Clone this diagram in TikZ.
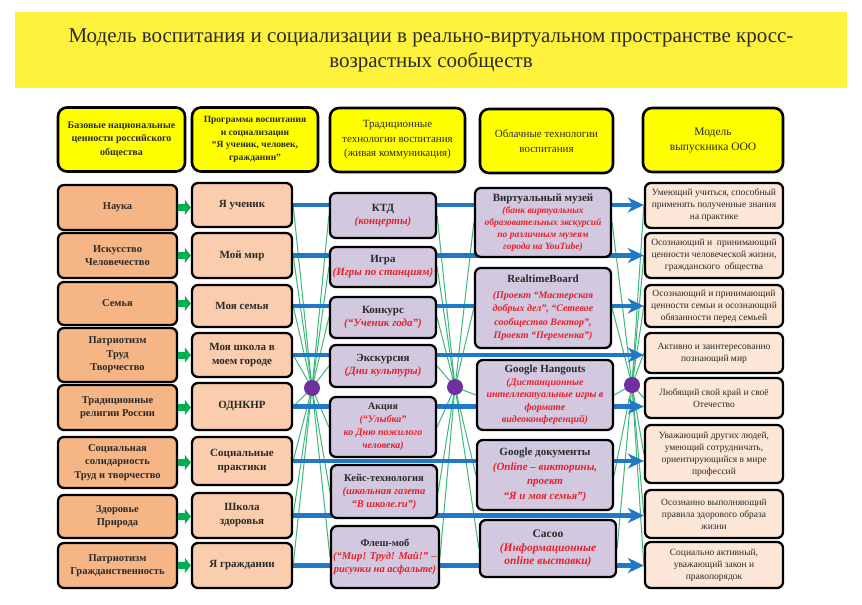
\documentclass[tikz,border=0pt]{standalone}
\usepackage{fontspec}
\setmainfont{Liberation Serif}
\usetikzlibrary{arrows.meta}
\pgfdeclarelayer{background}
\pgfsetlayers{background,main}
\definecolor{titleY}{HTML}{FFF23C}
\definecolor{hdrY}{HTML}{FFFF00}
\definecolor{cA}{HTML}{F5B585}
\definecolor{cB}{HTML}{F9CDAE}
\definecolor{cC}{HTML}{D2C8E0}
\definecolor{cE}{HTML}{FBE6D8}
\definecolor{blueL}{HTML}{1F78C8}
\definecolor{grn}{HTML}{00B050}
\definecolor{gline}{HTML}{3CB878}
\definecolor{dotP}{HTML}{7030A0}
\definecolor{redT}{HTML}{E8202A}
\definecolor{txt}{HTML}{2A2A2A}
\newcommand\redsub[1]{{\color{redT}\bfseries\itshape #1}}
\begin{document}
\begin{tikzpicture}[x=1pt,y=-1pt,
  box/.style={draw=black, line width=2.3pt, rounded corners=6pt, align=center, inner sep=2pt, text=txt},
  hdr/.style={box, fill=hdrY, rounded corners=9pt, line width=2.6pt, minimum height=64pt},
  va/.style={box, fill=cA, minimum width=119pt, font=\fontsize{10.5}{13.5}\selectfont\bfseries},
  vb/.style={box, fill=cB, minimum width=100pt, font=\fontsize{11}{14}\selectfont\bfseries},
  vc/.style={box, fill=cC, minimum width=106pt, font=\fontsize{11}{13}\selectfont\bfseries},
  vg/.style={box, fill=cC, minimum width=136pt, font=\fontsize{11}{13}\selectfont\bfseries},
  ve/.style={box, fill=cE, minimum width=138pt, font=\fontsize{9.5}{12}\selectfont},
  garrow/.style={draw=grn, line width=7pt, -{Triangle[length=6pt,width=15pt]}},
  barrow/.style={draw=blueL, line width=4.5pt, -{Stealth[length=16pt,width=15pt,inset=5pt]}},
  gl/.style={draw=gline, line width=1pt},
  dot/.style={circle, fill=dotP, minimum size=16pt, inner sep=0pt}
]
\begin{pgfonlayer}{background}
\fill[white] (0,0) rectangle (862,605);
\end{pgfonlayer}
\useasboundingbox (0,0) rectangle (862,605);

% title
\node[fill=titleY, minimum width=832pt, minimum height=76pt, align=center, text=txt,
  font=\fontsize{21}{25}\selectfont] (T) at (431,50)
  {Модель воспитания и социализации в реально-виртуальном пространстве кросс-\\возрастных сообществ};

% headers
\node[hdr, minimum width=127pt, font=\fontsize{10}{13.5}\selectfont\bfseries] (h1) at (121.5,139.5)
  {Базовые национальные\\ценности российского\\общества};
\node[hdr, minimum width=126pt, font=\fontsize{9.5}{12.5}\selectfont\bfseries] (h2) at (255,139.5)
  {Программа воспитания\\и социализации\\“Я ученик, человек,\\гражданин”};
\node[hdr, minimum width=135pt, font=\fontsize{11}{14.5}\selectfont] (h3) at (397.5,140)
  {Традиционные\\технологии воспитания\\(живая коммуникация)};
\node[hdr, minimum width=133pt, font=\fontsize{11}{14.5}\selectfont] (h4) at (546.5,141)
  {Облачные технологии\\воспитания};
\node[hdr, minimum width=140pt, font=\fontsize{11.5}{15}\selectfont] (h5) at (713,140)
  {Модель\\выпускника ООО};

% column 1
\node[va, minimum height=45pt] (a1) at (117.5,207.5) {Наука};
\node[va, minimum height=45pt] (a2) at (117.5,255.5) {Искусство\\Человечество};
\node[va, minimum height=43pt] (a3) at (117.5,303.5) {Семья};
\node[va, minimum height=54pt] (a4) at (117.5,355) {Патриотизм\\Труд\\Творчество};
\node[va, minimum height=45pt] (a5) at (117.5,407.5) {Традиционные\\религии России};
\node[va, minimum height=51pt] (a6) at (117.5,462.5) {Социальная\\солидарность\\Труд и творчество};
\node[va, minimum height=43pt] (a7) at (117.5,516.5) {Здоровье\\Природа};
\node[va, minimum height=45pt] (a8) at (117.5,565.5) {Патриотизм\\Гражданственность};

% column 2
\node[vb, minimum height=44pt] (b1) at (242,205) {Я ученик};
\node[vb, minimum height=45pt] (b2) at (242,255.5) {Мой мир};
\node[vb, minimum height=42pt] (b3) at (242,306) {Моя семья};
\node[vb, minimum height=44pt] (b4) at (242,355) {Моя школа в\\моем городе};
\node[vb, minimum height=47pt] (b5) at (242,406.5) {ОДНКНР};
\node[vb, minimum height=48pt] (b6) at (242,461) {Социальные\\практики};
\node[vb, minimum height=45pt] (b7) at (242,515.5) {Школа\\здоровья};
\node[vb, minimum height=45pt] (b8) at (242,565.5) {Я гражданин};

% column 3
\node[vc, minimum height=45pt] (c1) at (383,215.5) {КТД\\\redsub{(концерты)}};
\node[vc, minimum height=40pt] (c2) at (383,267) {Игра\\\redsub{(Игры по станциям)}};
\node[vc, minimum height=41pt] (c3) at (383,317.5) {Конкурс\\\redsub{(“Ученик года”)}};
\node[vc, minimum height=42pt] (c4) at (383,366) {Экскурсия\\\redsub{(Дни культуры)}};
\node[vc, minimum height=60pt, font=\fontsize{10}{13}\selectfont\bfseries] (c5) at (383,427)
  {Акция\\\redsub{(“Улыбка”}\\\redsub{ко Дню пожилого}\\\redsub{человека)}};
\node[vc, minimum height=53pt, font=\fontsize{10.5}{13}\selectfont\bfseries] (c6) at (384,491.5)
  {Кейс-технология\\\redsub{(школьная газета}\\\redsub{“В школе.ru”)}};
\node[vc, minimum height=62pt, font=\fontsize{10.5}{13}\selectfont\bfseries] (c7) at (385,557)
  {Флеш-моб\\\redsub{(“Мир! Труд! Май!” –}\\\redsub{рисунки на асфальте)}};

% column 4
\node[vg, minimum height=69pt, font=\fontsize{9.5}{12}\selectfont\bfseries] (g1) at (543,222.5)
  {{\fontsize{11}{13}\selectfont Виртуальный музей}\\\redsub{(банк виртуальных}\\\redsub{образовательных экскурсий}\\\redsub{по различным музеям}\\\redsub{города на YouTube)}};
\node[vg, minimum height=80pt, font=\fontsize{10}{13.5}\selectfont\bfseries] (g2) at (543,308)
  {{\fontsize{11}{13}\selectfont RealtimeBoard}\\[2pt]\redsub{(Проект “Мастерская}\\\redsub{добрых дел”, “Сетевое}\\\redsub{сообщество Вектор”,}\\\redsub{Проект “Переменка”)}};
\node[vg, minimum height=70pt, font=\fontsize{10}{12.5}\selectfont\bfseries] (g3) at (545,395)
  {{\fontsize{11}{13}\selectfont Google Hangouts}\\\redsub{(Дистанционные}\\\redsub{интеллектуальные игры в}\\\redsub{формате}\\\redsub{видеоконференций)}};
\node[vg, minimum height=70pt, font=\fontsize{11}{14.5}\selectfont\bfseries] (g4) at (545,475)
  {Google документы\\\redsub{(Online – викторины,}\\\redsub{проект}\\\redsub{“Я и моя семья”)}};
\node[vg, minimum height=57pt, font=\fontsize{11.5}{13.5}\selectfont\bfseries] (g5) at (548,548.5)
  {Cacoo\\\redsub{(Информационные}\\\redsub{online выставки)}};

% column 5
\node[ve, minimum height=45pt] (e1) at (714,205.5) {Умеющий учиться, способный\\применять полученные знания\\на практике};
\node[ve, minimum height=45pt] (e2) at (714,255.5) {Осознающий и \ принимающий\\ценности человеческой жизни,\\гражданского \ общества};
\node[ve, minimum height=42pt] (e3) at (714,306) {Осознающий и принимающий\\ценности семьи и осознающий\\обязанности перед семьей};
\node[ve, minimum height=40pt] (e4) at (714,353) {Активно и заинтересованно\\познающий мир};
\node[ve, minimum height=40pt] (e5) at (714,398) {Любящий свой край и своё\\Отечество};
\node[ve, minimum height=58pt] (e6) at (714,454) {Уважающий других людей,\\умеющий сотрудничать,\\ориентирующийся в мире\\профессий};
\node[ve, minimum height=48pt] (e7) at (714,514) {Осознанно выполняющий\\правила здорового образа\\жизни};
\node[ve, minimum height=46pt] (e8) at (714,565) {Социально активный,\\уважающий закон и\\правопорядок};

% hubs
\node[dot] (d1) at (312,388) {};
\node[dot] (d2) at (455,387) {};
\node[dot] (d3) at (632,385) {};

\begin{pgfonlayer}{background}
  \foreach \n in {b1,b2,b3,b4,b5,b6,b7,b8} \draw[gl] (d1.center) -- (\n.east);
  \foreach \n in {c1,c2,c3,c4,c5,c6,c7} \draw[gl] (d1.center) -- (\n.west);
  \foreach \n in {c1,c2,c3,c4,c5,c6,c7} \draw[gl] (d2.center) -- (\n.east);
  \foreach \n in {g1,g2,g3,g4,g5} \draw[gl] (d2.center) -- (\n.west);
  \foreach \n in {g1,g2,g3,g4,g5} \draw[gl] (d3.center) -- (\n.east);
  \foreach \n in {e1,e2,e3,e4,e5,e6,e7,e8} \draw[gl] (d3.center) -- (\n.west);
  \foreach \i in {1,...,8} \draw[barrow] (b\i.east) -- (b\i.east -| e\i.west);
\end{pgfonlayer}

% green arrows col1 -> col2
\foreach \i in {1,...,8} \draw[garrow] (a\i.east) -- (a\i.east -| b\i.west);
\end{tikzpicture}
\end{document}
